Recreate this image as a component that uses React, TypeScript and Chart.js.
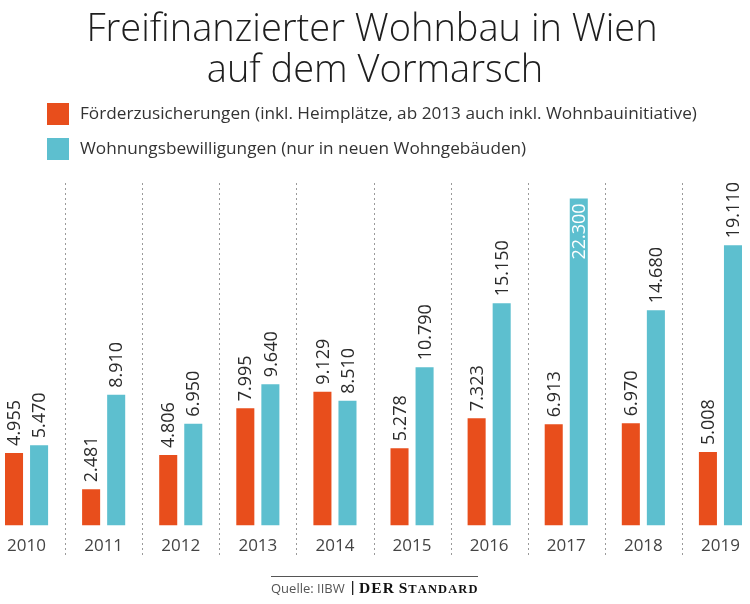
import React, { useEffect, useRef } from "react";
import { Chart, registerables } from "chart.js";

Chart.register(...registerables);

const years = ["2010", "2011", "2012", "2013", "2014", "2015", "2016", "2017", "2018", "2019"];
const foerderzusicherungen = [4955, 2481, 4806, 7995, 9129, 5278, 7323, 6913, 6970, 5008];
const bewilligungen = [5470, 8910, 6950, 9640, 8510, 10790, 15150, 22300, 14680, 19110];

const titleLines = ["Freifinanzierter Wohnbau in Wien", "auf dem Vormarsch"];
const legendLabels = [
  "Förderzusicherungen (inkl. Heimplätze, ab 2013 auch inkl. Wohnbauinitiative)",
  "Wohnungsbewilligungen (nur in neuen Wohngebäuden)",
];
const sourceText = "Quelle: IIBW";

const ORANGE = "#E84E1C";
const TEAL = "#5DBFCF";
const FONT = "'Open Sans', 'Noto Sans', sans-serif";
const OX = 12; // canvas is shifted left by this many px

function fmt(v: number): string {
  const s = String(Math.round(v));
  return s.replace(/\B(?=(\d{3})+(?!\d))/g, ".");
}

const overlay = {
  id: "overlay",
  beforeDatasetsDraw(chart: any) {
    const ctx = chart.ctx;
    const xs = chart.scales.x;
    ctx.save();
    ctx.strokeStyle = "#9a9a9a";
    ctx.lineWidth = 1;
    ctx.setLineDash([2, 3]);
    for (let i = 1; i < years.length; i++) {
      const x = Math.round((xs.getPixelForValue(i - 1) + xs.getPixelForValue(i)) / 2) + 0.5;
      ctx.beginPath();
      ctx.moveTo(x, 183);
      ctx.lineTo(x, 556);
      ctx.stroke();
    }
    ctx.restore();
  },
  afterDatasetsDraw(chart: any) {
    const ctx = chart.ctx;
    ctx.save();
    ctx.font = `18px ${FONT}`;
    ctx.textBaseline = "middle";
    chart.data.datasets.forEach((ds: any, d: number) => {
      const meta = chart.getDatasetMeta(d);
      meta.data.forEach((bar: any, i: number) => {
        const { x, y } = bar.getProps(["x", "y"], true);
        const text = fmt(ds.data[i]);
        const w = ctx.measureText(text).width;
        ctx.save();
        let ay: number;
        if (y - 7 - w < chart.chartArea.top - 2) {
          ay = y + 5;
          ctx.textAlign = "right";
          ctx.fillStyle = "#ffffff";
        } else {
          ay = y - 7;
          ctx.textAlign = "left";
          ctx.fillStyle = "#2b2b2b";
        }
        ctx.translate(x + 1, ay);
        ctx.rotate(-Math.PI / 2);
        ctx.fillText(text, 0, 0);
        ctx.restore();
      });
    });
    ctx.restore();
  },
  afterDraw(chart: any) {
    const ctx = chart.ctx;
    ctx.save();
    // Title
    ctx.fillStyle = "#1e1e1e";
    ctx.textAlign = "center";
    ctx.textBaseline = "alphabetic";
    ctx.font = `300 38px ${FONT}`;
    ctx.fillText(titleLines[0], 372 + OX, 41);
    ctx.fillText(titleLines[1], 375 + OX, 82);
    // Legend
    const colors = [ORANGE, TEAL];
    ctx.textAlign = "left";
    ctx.textBaseline = "middle";
    ctx.font = `17.2px ${FONT}`;
    legendLabels.forEach((lab, i) => {
      const cy = 114 + i * 35;
      ctx.fillStyle = colors[i];
      ctx.fillRect(47 + OX, cy - 11, 22, 22);
      ctx.fillStyle = "#333333";
      ctx.fillText(lab, 80 + OX, cy);
    });
    // Footer
    ctx.strokeStyle = "#555555";
    ctx.lineWidth = 1;
    ctx.beginPath();
    ctx.moveTo(271 + OX, 576.5);
    ctx.lineTo(478 + OX, 576.5);
    ctx.stroke();
    ctx.textBaseline = "alphabetic";
    ctx.fillStyle = "#555555";
    ctx.font = `13px ${FONT}`;
    ctx.fillText(sourceText, 271 + OX, 593);
    ctx.fillStyle = "#222222";
    ctx.fillRect(352 + OX, 581, 1.3, 14);
    ctx.fillStyle = "#111111";
    let x = 359 + OX;
    const parts: [string, number][] = [
      ["D", 15.5], ["E", 15.5], ["R", 15.5], [" ", 10],
      ["S", 15.5], ["T", 12.5], ["A", 12.5], ["N", 12.5], ["D", 12.5], ["A", 12.5], ["R", 12.5], ["D", 12.5],
    ];
    parts.forEach(([t, s]) => {
      ctx.font = `600 ${s}px 'Liberation Serif', 'DejaVu Serif', serif`;
      ctx.fillText(t, x, 593);
      x += ctx.measureText(t).width + 1.1;
    });
    ctx.restore();
  },
};

export default function App() {
  const ref = useRef<HTMLCanvasElement | null>(null);
  useEffect(() => {
    if (!ref.current) return;
    const chart = new Chart(ref.current, {
      type: "bar",
      data: {
        labels: years,
        datasets: [
          { label: legendLabels[0], data: foerderzusicherungen, backgroundColor: ORANGE, categoryPercentage: 0.65, barPercentage: 0.72 },
          { label: legendLabels[1], data: bewilligungen, backgroundColor: TEAL, categoryPercentage: 0.65, barPercentage: 0.72 },
        ],
      },
      options: {
        responsive: false,
        animation: false,
        devicePixelRatio: 1,
        layout: { padding: { top: 183, bottom: 38, left: 0, right: 3 } },
        plugins: { legend: { display: false }, title: { display: false }, tooltip: { enabled: false } },
        scales: {
          x: {
            grid: { display: false, drawTicks: false },
            border: { display: false },
            ticks: { color: "#444444", font: { size: 17, family: FONT }, padding: 10 },
          },
          y: { display: false, min: 0, max: 23350 },
        },
      },
      plugins: [overlay],
    });
    return () => chart.destroy();
  }, []);
  return (
    <div style={{ position: "absolute", left: 0, top: 0, width: 750, height: 604, overflow: "hidden", background: "#ffffff" }}>
      <canvas ref={ref} width={774} height={604} style={{ position: "absolute", left: -OX, top: 0, width: 774, height: 604 }} />
    </div>
  );
}
